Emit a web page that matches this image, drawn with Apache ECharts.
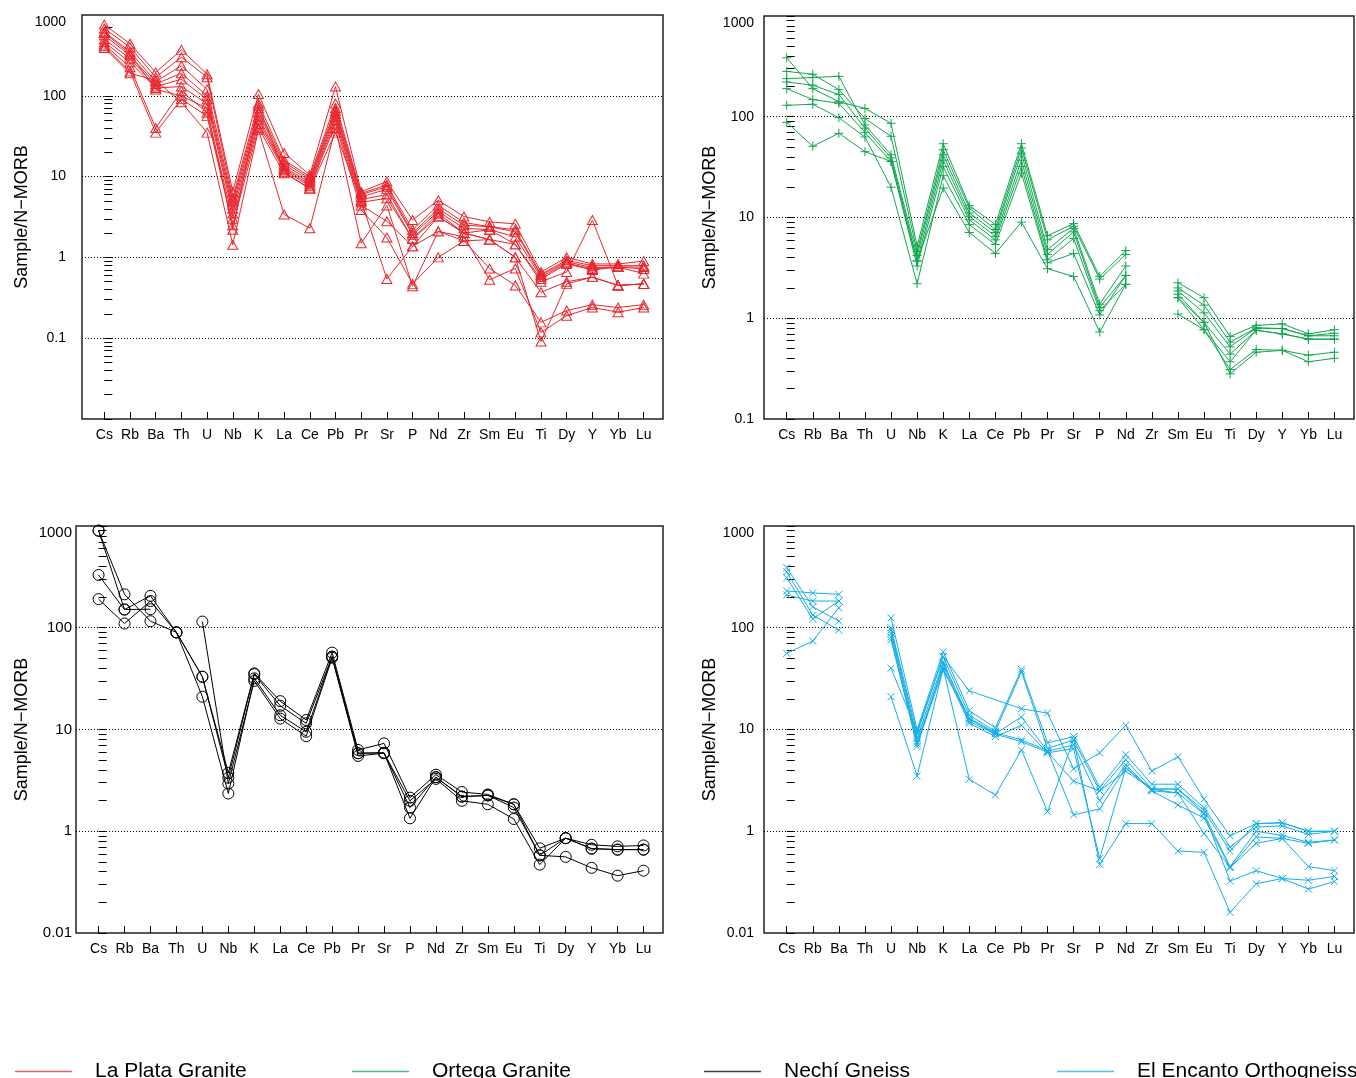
<!DOCTYPE html>
<html>
<head>
<meta charset="utf-8">
<script src="https://cdn.jsdelivr.net/npm/echarts@6/dist/echarts.min.js"></script>
<style>
html,body{margin:0;padding:0;background:#fff;}
#chart{width:1356px;height:1078px;}
</style>
</head>
<body>
<div id="chart"></div>
<script>
// ---------------- DATA ----------------
const elements = ['Cs','Rb','Ba','Th','U','Nb','K','La','Ce','Pb','Pr','Sr','P','Nd','Zr','Sm','Eu','Ti','Dy','Y','Yb','Lu'];

const yTickValues = [0.1, 1, 10, 100, 1000];
const yTickLabelsTop = ['0.1', '1', '10', '100', '1000'];
const yTickLabelsBottom = ['0.01', '1', '10', '100', '1000'];

const groupNames = ['La Plata Granite', 'Ortega Granite', 'Nechí Gneiss', 'El Encanto Orthogneiss'];

// La Plata Granite (Sample / N-MORB)
const laPlata1  = [760, 440, 195, 370, 185, 6.5, 105, 19.6, 10.5, 130, 6.5, 8.7, 2.9, 5.1, 3.2, 2.75, 2.6, 0.66, 1.0, 0.83, 0.83, 0.9];
const laPlata2  = [680, 400, 170, 300, 170, 5.5, 80, 16, 10, 80, 6.2, 7.9, 2.2, 4.4, 2.7, 2.4, 2.2, 0.62, 0.92, 0.79, 0.79, 0.79];
const laPlata3  = [620, 350, 150, 235, 120, 5.0, 70, 15, 9.5, 70, 6.0, 7.5, 2.0, 4.0, 2.5, 2.4, 2.07, 0.6, 0.88, 0.75, 0.76, 0.76];
const laPlata4  = [560, 315, 140, 190, 100, 4.5, 62, 14, 9.0, 65, 5.6, 7.0, 1.9, 3.7, 2.3, 2.2, 1.8, 0.57, 0.85, 0.72, 0.76, 0.72];
const laPlata5  = [500, 290, 130, 160, 90, 4.0, 55, 13, 8.5, 60, 5.2, 6.0, 1.7, 3.5, 2.0, 2.2, 1.45, 0.54, 0.83, 0.7, 0.76, 0.63];
const laPlata6  = [460, 260, 125, 130, 80, 3.5, 50, 12.5, 8.0, 55, 4.8, 5.4, 1.7, 3.2, 2.0, 1.66, 1.45, 0.5, 0.66, 2.9, 0.45, 0.47];
const laPlata7  = [430, 225, 40, 115, 62, 3.0, 45, 12, 7.6, 50, 4.4, 2.8, 1.37, 2.1, 1.6, 1.66, 1.0, 0.37, 0.5, 0.57, 0.45, 0.47];
const laPlata8  = [410, 200, 35, 91, 56, 2.5, 40, 11, 7.2, 45, 3.85, 1.76, 0.47, 1.0, 1.6, 0.73, 0.45, 0.157, 0.22, 0.26, 0.24, 0.26];
const laPlata9  = [390, 190, 155, 83, 35, 1.43, 38, 3.4, 2.3, 40, 1.5, 4.4, 0.44, 2.1, 1.8, 0.53, 0.73, 0.118, 0.19, 0.24, 0.21, 0.24];
const laPlata10 = [600, 330, 120, 100, 70, 2.2, 75, 11.5, 7.0, 35, 5.0, 0.54, 1.37, 3.2, 2.0, 1.66, 1.0, 0.091, 0.47, 0.57, 0.45, 0.47];

// Ortega Granite (Zr not analysed)
const ortega1 = [385, 190, 141, 121, 86, 5.2, 54, 13.1, 8.5, 54, 6.6, 8.7, 2.6, 4.7, null, 2.25, 1.6, 0.66, 0.85, 0.88, 0.70, 0.77];
const ortega2 = [282, 264, 186, 96, 64, 4.6, 47, 12.4, 7.6, 49, 6.0, 8.2, 2.45, 4.3, null, 2.0, 1.35, 0.58, 0.80, 0.79, 0.67, 0.71];
const ortega3 = [239, 245, 252, 83, 42, 4.2, 42, 11.1, 7.1, 43.5, 4.8, 7.8, 1.38, 3.3, null, 1.87, 1.13, 0.52, 0.80, 0.79, 0.67, 0.67];
const ortega4 = [221, 206, 166, 77, 39, 3.7, 37, 10.3, 6.5, 37, 4.3, 7.2, 1.28, 2.66, null, 1.73, 0.91, 0.44, 0.76, 0.70, 0.62, 0.62];
const ortega5 = [190, 148, 136, 70, 36, 3.3, 32, 9.5, 6.0, 32, 3.8, 6.2, 1.19, 2.17, null, 1.6, 0.77, 0.37, 0.76, 0.70, 0.62, 0.62];
const ortega6 = [130, 133, 98, 63, 20, 2.2, 26, 8.5, 5.4, 27.6, 3.55, 4.4, 1.08, 2.66, null, 1.1, 0.77, 0.31, 0.49, 0.48, 0.43, 0.46];
const ortega7 = [88, 51, 68.5, 45, 36, 3.7, 19.6, 7.1, 4.4, 9.0, 3.1, 2.6, 0.73, 2.17, null, 1.6, 0.91, 0.28, 0.46, 0.48, 0.37, 0.40];

// Nechí Gneiss
const nechi1 = [900, 213, 116, 90, 33, 3.75, 35.6, 19, 12.4, 57, 6.3, 7.3, 2.14, 3.6, 2.43, 2.3, 1.84, 0.68, 0.855, 0.736, 0.71, 0.725];
const nechi2 = [900, 151, 206, 90, 21, 2.35, 31.8, 13.8, 9.5, 52, 5.85, 5.9, 1.71, 3.4, 2.19, 2.25, 1.71, 0.58, 0.855, 0.675, 0.66, 0.66];
const nechi3 = [330, 151, 152, null, 115, 2.94, 30, 12.8, 8.6, 50.7, 5.5, 5.85, 1.99, 3.27, 1.99, 1.84, 1.32, 0.47, 0.855, 0.675, 0.66, 0.66];
const nechi4 = [191, 110, 183, 90, 33, 3.36, 35, 17.1, 11.5, 52, 5.85, 5.9, 1.34, 3.4, 2.19, 2.25, 1.84, 0.58, 0.56, 0.437, 0.366, 0.41];

// El Encanto Orthogneiss (Th not analysed)
const elEncanto1 = [390, 161, 116, null, 125, 10, 58, 15.3, 10.4, 39, 7.4, 8.5, 2.7, 5.65, 2.9, 2.9, 1.7, 0.70, 1.1, 1.13, 0.93, 1.0];
const elEncanto2 = [355, 133, 95, null, 100, 9.1, 52, 13.8, 9.6, 37, 6.5, 7.9, 2.5, 5.05, 2.6, 2.6, 1.6, 0.64, 1.19, 1.21, 1.0, 1.0];
const elEncanto3 = [310, 122, 183, null, 95, 8.2, 46, 12.6, 9.1, 13.3, 6.1, 7.05, 2.0, 4.5, 2.5, 2.37, 1.48, 0.45, 1.0, 0.91, 0.78, 0.82];
const elEncanto4 = [230, 220, 213, null, 88, 7.6, 41, 11.5, 8.5, 11.0, 5.9, 6.5, 0.54, 4.2, 2.5, 1.81, 1.35, 0.44, 0.88, 0.85, 0.76, 0.82];
const elEncanto5 = [210, 183, 183, null, 81, 6.8, 44, 12, 9.0, 7.6, 6.0, 3.1, 2.5, 3.9, 2.6, 2.37, 0.95, 0.44, 0.76, 0.85, 0.45, 0.41];
const elEncanto6 = [56, 74, 157, null, 76, 7.2, 38, 13, 9.3, 7.9, 6.2, 1.45, 1.66, 4.2, 2.6, 2.6, 1.5, 0.324, 0.41, 0.343, 0.33, 0.36];
const elEncanto7 = [null, null, null, null, 40, 9.5, 52, 24, null, 16, 14.5, 4.1, 5.9, 11, 3.9, 5.4, 2.07, 0.9, 1.19, 1.21, 1.0, 1.0];
const elEncanto8 = [null, null, null, null, 21, 3.5, 40, 3.24, 2.27, 6.3, 1.56, 8.0, 0.47, 1.19, 1.19, 0.64, 0.62, 0.16, 0.305, 0.343, 0.27, 0.32];

const laPlata = [laPlata1, laPlata2, laPlata3, laPlata4, laPlata5, laPlata6, laPlata7, laPlata8, laPlata9, laPlata10];
const ortega = [ortega1, ortega2, ortega3, ortega4, ortega5, ortega6, ortega7];
const nechi = [nechi1, nechi2, nechi3, nechi4];
const elEncanto = [elEncanto1, elEncanto2, elEncanto3, elEncanto4, elEncanto5, elEncanto6, elEncanto7, elEncanto8];

// ---------------- STYLE ----------------
const colors = ['#e8262d', '#12a650', '#000000', '#14aee8'];
const symbols = [
  'triangle',
  'path://M0,5L10,5M5,0L5,10',
  'circle',
  'path://M0,0L10,10M10,0L0,10'
];
const symbolSizes = [[10, 9], 9, 11, 7];
const font = "'Liberation Sans', Arial, sans-serif";

const grids = [
  {left: 82, top: 15, width: 581, height: 404},
  {left: 764, top: 16, width: 590, height: 403},
  {left: 76, top: 526, width: 587, height: 407},
  {left: 764, top: 526, width: 590, height: 407}
];
const yRanges = [[0.01, 1000], [0.1, 1000], [0.1, 1000], [0.1, 1000]];
const yLabelSets = [yTickLabelsTop, yTickLabelsTop, yTickLabelsBottom, yTickLabelsBottom];
const yLabelMargins = [16, 10, 4, 10];
const yLabelSizes = [14, 14, 15, 14];
const nameGaps = [50, 45, 45, 45];

function logTicks(lo, hi) {
  const out = [];
  for (let k = lo; k <= hi; k++) {
    for (let m = 1; m <= 9; m++) out.push(+(m * Math.pow(10, k)).toPrecision(6));
  }
  return out;
}
const yTickSets = [
  logTicks(-2, 1).concat([100, 700]),
  logTicks(-1, 2).concat([1000]),
  logTicks(-1, 2).concat([1000]),
  logTicks(-1, 2).concat([1000])
];

function labelFor(p, v) {
  const i = yTickValues.findIndex(t => Math.abs(Math.log10(t) - Math.log10(v)) < 1e-6);
  if (i < 0) return '';
  const s = yLabelSets[p][i];
  return (yTickValues[i] === 1000) ? '{top|' + s + '}' : s;
}

const xAxes = grids.map((g, p) => ({
  type: 'value', gridIndex: p, min: -0.87, max: 21.75,
  splitLine: {show: false},
  axisLine: {show: false},
  axisTick: {show: true, inside: true, length: 7, customValues: elements.map((_, i) => i),
             lineStyle: {color: '#000', width: 1}},
  axisLabel: {customValues: elements.map((_, i) => i), formatter: v => elements[Math.round(v)],
              fontFamily: font, fontSize: 14, color: '#000', margin: 9}
}));

const yAxes = grids.map((g, p) => ({
  type: 'log', logBase: 10, gridIndex: p, min: yRanges[p][0], max: yRanges[p][1],
  axisLine: {show: false},
  splitLine: {show: false},
  axisTick: {show: true, inside: true, length: 8, customValues: yTickSets[p],
             lineStyle: {color: '#000', width: 1}},
  axisLabel: {customValues: yTickValues.filter(v => v >= yRanges[p][0]),
              formatter: v => labelFor(p, v),
              fontFamily: font, fontSize: yLabelSizes[p], color: '#000', margin: yLabelMargins[p],
              rich: {top: {fontFamily: font, fontSize: yLabelSizes[p], color: '#000', padding: [14, 0, 0, 0]}}},
  name: 'Sample/N\u2212MORB', nameLocation: 'middle', nameRotate: 90, nameGap: nameGaps[p],
  nameTextStyle: {fontFamily: font, fontSize: 18, color: '#000'}
}));

// helper axes: dotted decade grid lines only (interior)
const gridLineAxes = grids.map((g, p) => ({
  type: 'log', logBase: 10, gridIndex: p, min: yRanges[p][0], max: yRanges[p][1],
  position: 'left',
  axisLine: {show: false}, axisTick: {show: false}, axisLabel: {show: false},
  splitLine: {show: true, showMinLine: false, showMaxLine: false,
              lineStyle: {color: '#000', width: 1, type: [1, 2]}}
}));

const groups = [laPlata, ortega, nechi, elEncanto];
const series = [];
groups.forEach((samples, p) => {
  samples.forEach(vals => {
    series.push({
      type: 'line', name: groupNames[p], xAxisIndex: p, yAxisIndex: p,
      data: vals.map((v, i) => [i, v == null ? '-' : v]),
      connectNulls: (vals === elEncanto7),
      symbol: symbols[p], symbolSize: symbolSizes[p],
      itemStyle: {color: 'rgba(0,0,0,0)', borderColor: colors[p], borderWidth: 1},
      lineStyle: {color: colors[p], width: 1},
      emphasis: {disabled: true},
      silent: true
    });
  });
});

const legendLefts = [15, 352, 704, 1057];
const legends = groupNames.map((n, i) => ({
  data: [n],
  left: legendLefts[i], top: 1061, padding: 0,
  icon: 'rect', itemWidth: 57, itemHeight: 1.5,
  selectedMode: false,
  itemStyle: {color: colors[i], borderWidth: 0, opacity: 0.75},
  textStyle: {fontFamily: font, fontSize: 21, color: '#000', padding: [0, 0, 0, 18]}
}));

const chart = echarts.init(document.getElementById('chart'), null, {renderer: 'canvas'});
chart.setOption({
  animation: false,
  backgroundColor: '#fff',
  grid: grids.map(g => Object.assign({show: true, borderColor: '#222', borderWidth: 1.5, backgroundColor: 'transparent'}, g)),
  xAxis: xAxes,
  yAxis: yAxes.concat(gridLineAxes),
  legend: legends,
  series: series
});
</script>
</body>
</html>
